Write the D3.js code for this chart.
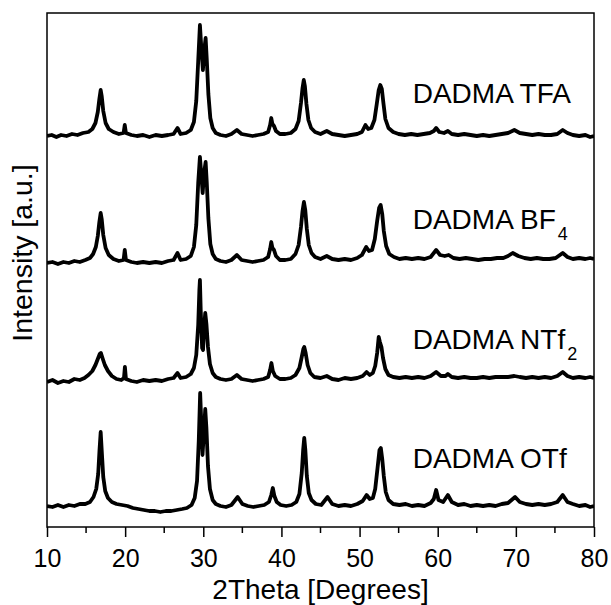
<!DOCTYPE html>
<html>
<head>
<meta charset="utf-8">
<script src="https://cdn.jsdelivr.net/npm/d3@7"></script>
<style>
  body { margin: 0; background: #fff; }
  svg text { font-family: "Liberation Sans", Arial, sans-serif; fill: #000; }
</style>
</head>
<body>
<div id="chart"></div>
<script>
// ---- data (2Theta in degrees, intensity in counts above each pattern's baseline)
const xMajorTicks = [10, 20, 30, 40, 50, 60, 70, 80];
const xMinorTicks = [15, 25, 35, 45, 55, 65, 75];

const sampleNames = ["DADMA TFA", "DADMA BF", "DADMA NTf", "DADMA OTf"];
const sampleSubs = ["", "4", "2", ""];
const sampleOffsets = [3910, 2660, 1470, 210];
const labelTheta = 56.8;
const labelLevels = [4240, 2980, 1780, 590];

const tfa = [[10,0],[10.6,10],[11.2,-10],[11.8,10],[12.5,0],[13.2,20],[13.9,10],[14.6,30],[15.3,40],[15.8,70],[16.2,130],[16.5,240],[16.7,370],[16.87,460],[17.0,400],[17.2,250],[17.5,130],[17.9,70],[18.5,40],[19.2,20],[19.8,30],[19.95,110],[20.1,30],[20.8,10],[21.5,0],[22.3,10],[23.1,-10],[23.9,10],[24.7,0],[25.5,10],[26.2,20],[26.7,80],[27.1,20],[27.8,30],[28.4,60],[28.8,140],[29.1,350],[29.35,750],[29.57,1110],[29.75,880],[29.95,660],[30.12,860],[30.3,980],[30.45,760],[30.65,420],[30.9,180],[31.2,80],[31.6,30],[32.2,10],[32.9,0],[33.6,20],[34.3,60],[34.9,20],[35.6,10],[36.3,0],[37.0,10],[37.7,20],[38.3,40],[38.55,110],[38.7,180],[38.85,120],[39.05,100],[39.3,50],[39.8,20],[40.5,20],[41.2,30],[41.8,70],[42.2,150],[42.5,330],[42.7,480],[42.86,560],[43.0,500],[43.2,320],[43.45,160],[43.8,80],[44.3,40],[45.0,20],[45.8,50],[46.5,20],[47.3,10],[48.1,0],[48.9,10],[49.7,20],[50.3,40],[50.75,110],[51.1,70],[51.5,80],[51.9,160],[52.2,320],[52.45,460],[52.65,510],[52.85,470],[53.05,330],[53.3,170],[53.7,80],[54.3,40],[55.0,20],[55.8,10],[56.6,20],[57.4,10],[58.2,20],[59.0,30],[59.5,50],[59.8,80],[60.2,40],[60.8,30],[61.3,50],[61.8,20],[62.6,10],[63.4,20],[64.2,10],[65.0,0],[65.8,10],[66.6,0],[67.4,10],[68.2,20],[69.0,30],[69.8,60],[70.5,30],[71.3,20],[72.1,10],[72.9,20],[73.7,10],[74.5,10],[75.3,20],[76.0,60],[76.6,30],[77.3,10],[78.1,0],[78.9,10],[79.5,-10],[80,0]];

const bf4 = [[10,-20],[10.7,-10],[11.4,-30],[12.1,-10],[12.8,-20],[13.5,0],[14.2,-10],[14.9,10],[15.5,30],[15.9,70],[16.25,140],[16.5,250],[16.7,390],[16.87,480],[17.0,420],[17.2,260],[17.5,130],[17.9,60],[18.5,20],[19.2,0],[19.8,10],[19.95,110],[20.1,10],[20.8,-10],[21.5,-20],[22.3,-10],[23.1,-20],[23.9,-10],[24.7,-20],[25.5,0],[26.2,10],[26.7,80],[27.1,10],[27.8,20],[28.4,50],[28.8,140],[29.1,360],[29.35,780],[29.57,1040],[29.75,860],[29.92,680],[30.1,880],[30.3,990],[30.45,780],[30.65,430],[30.9,170],[31.2,70],[31.6,20],[32.2,0],[32.9,-10],[33.6,10],[34.3,60],[34.9,10],[35.6,0],[36.3,-10],[37.0,0],[37.7,10],[38.3,40],[38.55,120],[38.7,190],[38.85,130],[39.05,110],[39.3,50],[39.8,10],[40.5,10],[41.2,20],[41.8,70],[42.2,160],[42.5,340],[42.7,500],[42.88,590],[43.05,510],[43.25,320],[43.5,160],[43.85,80],[44.3,40],[45.0,20],[45.8,50],[46.5,20],[47.3,10],[48.1,20],[48.9,10],[49.7,30],[50.3,60],[50.85,140],[51.2,100],[51.6,110],[51.95,220],[52.25,400],[52.5,530],[52.7,560],[52.9,470],[53.1,300],[53.4,150],[53.8,70],[54.4,40],[55.1,20],[55.9,30],[56.7,20],[57.5,30],[58.3,20],[59.1,40],[59.8,110],[60.3,60],[60.9,50],[61.4,60],[62.0,30],[62.8,20],[63.6,30],[64.4,20],[65.2,10],[66.0,20],[66.8,20],[67.6,30],[68.4,30],[69.0,50],[69.6,80],[70.3,50],[71.1,30],[71.9,20],[72.7,30],[73.5,20],[74.3,20],[75.1,30],[76.0,80],[76.6,40],[77.3,20],[78.1,30],[78.9,20],[79.5,30],[80,20]];

const ntf2 = [[10,-20],[10.7,0],[11.4,-30],[12.1,-10],[12.8,-20],[13.5,10],[14.2,0],[14.8,20],[15.3,50],[15.8,90],[16.2,150],[16.5,210],[16.75,260],[16.9,270],[17.1,220],[17.4,150],[17.8,90],[18.3,40],[18.9,10],[19.5,0],[19.85,20],[19.97,130],[20.1,10],[20.8,-10],[21.5,-20],[22.3,0],[23.1,-10],[23.9,0],[24.7,-10],[25.5,10],[26.2,20],[26.7,70],[27.1,20],[27.8,30],[28.4,60],[28.8,120],[29.1,250],[29.35,550],[29.5,900],[29.57,1000],[29.67,700],[29.85,320],[29.97,300],[30.1,520],[30.25,670],[30.4,560],[30.6,330],[30.85,160],[31.2,70],[31.6,30],[32.2,10],[32.9,0],[33.6,10],[34.3,50],[34.9,10],[35.6,0],[36.3,-10],[37.0,0],[37.7,10],[38.3,30],[38.55,100],[38.72,170],[38.9,90],[39.2,40],[39.8,10],[40.5,10],[41.2,20],[41.8,50],[42.3,120],[42.6,230],[42.8,310],[42.92,330],[43.1,270],[43.35,150],[43.7,70],[44.2,30],[45.0,20],[45.8,40],[46.5,10],[47.3,0],[48.1,20],[48.9,10],[49.7,20],[50.4,40],[50.9,80],[51.3,50],[51.7,70],[52.0,140],[52.25,270],[52.45,430],[52.6,380],[52.8,330],[53.0,220],[53.3,110],[53.7,50],[54.3,30],[55.1,20],[55.9,30],[56.7,20],[57.5,30],[58.3,20],[59.1,40],[59.8,80],[60.4,40],[61.0,40],[61.3,60],[61.8,30],[62.6,20],[63.4,30],[64.2,20],[65.0,20],[65.8,30],[66.6,20],[67.4,30],[68.2,30],[69.0,30],[69.8,40],[70.5,30],[71.3,20],[72.1,30],[72.9,20],[73.7,30],[74.5,20],[75.3,40],[76.0,80],[76.6,40],[77.3,20],[78.1,30],[78.9,20],[79.5,30],[80,20]];

const otf = [[10,0],[10.7,-10],[11.4,10],[12.1,-10],[12.8,10],[13.5,0],[14.2,20],[14.9,20],[15.5,40],[15.95,90],[16.3,170],[16.55,320],[16.72,560],[16.87,740],[17.0,560],[17.2,290],[17.45,150],[17.8,80],[18.3,40],[18.9,20],[19.6,10],[20.3,0],[21.0,-20],[21.7,-30],[22.4,-40],[23.1,-50],[23.8,-50],[24.5,-60],[25.2,-50],[25.9,-50],[26.6,-40],[27.3,-30],[27.9,-20],[28.5,10],[28.9,80],[29.2,250],[29.42,650],[29.6,1130],[29.75,820],[29.9,510],[30.05,700],[30.25,970],[30.4,780],[30.6,400],[30.85,170],[31.2,60],[31.6,20],[32.2,0],[32.9,-10],[33.6,10],[34.4,90],[35.0,20],[35.7,0],[36.4,-10],[37.1,0],[37.8,10],[38.4,40],[38.7,110],[38.9,180],[39.1,100],[39.4,40],[39.9,10],[40.6,0],[41.3,10],[41.9,40],[42.3,120],[42.6,330],[42.78,560],[42.92,680],[43.06,560],[43.25,300],[43.5,130],[43.85,60],[44.4,20],[45.1,10],[45.9,90],[46.5,20],[47.3,0],[48.1,10],[48.9,0],[49.7,20],[50.4,50],[50.9,110],[51.3,70],[51.7,80],[52.0,170],[52.3,380],[52.55,560],[52.72,580],[52.9,470],[53.1,300],[53.35,140],[53.7,60],[54.3,20],[55.1,10],[55.9,20],[56.7,0],[57.5,10],[58.3,0],[59.1,30],[59.5,70],[59.8,160],[60.1,60],[60.7,40],[61.3,110],[61.8,40],[62.6,10],[63.4,20],[64.2,0],[65.0,10],[65.8,0],[66.6,10],[67.4,0],[68.2,20],[69.0,30],[69.9,90],[70.5,40],[71.3,20],[72.1,10],[72.9,20],[73.7,10],[74.5,20],[75.3,40],[76.0,110],[76.6,40],[77.3,20],[78.1,0],[78.9,10],[79.5,-10],[80,0]];

const patterns = [tfa, bf4, ntf2, otf];

// ---- layout
const W = 611, H = 605;
const margin = { top: 13, right: 17, bottom: 78, left: 47 };
const width = W - margin.left - margin.right;
const height = H - margin.top - margin.bottom;

const svg = d3.select("#chart").append("svg")
  .attr("width", W)
  .attr("height", H);

const g = svg.append("g")
  .attr("transform", `translate(${margin.left},${margin.top})`);

const x = d3.scaleLinear().domain([10, 80]).range([0, width]);
const y = d3.scaleLinear().domain([0, 5140]).range([height, 0]);

// clip traces to the frame
svg.append("clipPath").attr("id", "plotClip")
  .append("rect").attr("width", width).attr("height", height);

const line = d3.line()
  .x(d => x(d[0]))
  .y(d => y(d[1]));

// noisy scans read as a thick band, so the stroke is heavy
g.append("g").attr("clip-path", "url(#plotClip)")
  .selectAll("path.trace")
  .data(patterns)
  .join("path")
  .attr("class", "trace")
  .attr("fill", "none")
  .attr("stroke", "#000")
  .attr("stroke-width", 3.8)
  .attr("stroke-linejoin", "round")
  .attr("d", (d, i) => line(d.map(p => [p[0], p[1] + sampleOffsets[i]])));

// frame
g.append("rect")
  .attr("width", width)
  .attr("height", height)
  .attr("fill", "none")
  .attr("stroke", "#000")
  .attr("stroke-width", 1.5);

// bottom axis
const xAxis = g.append("g")
  .attr("transform", `translate(0,${height})`)
  .call(d3.axisBottom(x).tickValues(xMajorTicks).tickSize(10).tickPadding(12).tickFormat(d3.format("d")));
xAxis.select(".domain").remove();
xAxis.selectAll(".tick line").attr("stroke-width", 1.5);
xAxis.selectAll(".tick text")
  .style("font-family", '"Liberation Sans", Arial, sans-serif')
  .style("font-size", "25px");

g.append("g").selectAll("line.minor")
  .data(xMinorTicks)
  .join("line")
  .attr("class", "minor")
  .attr("x1", d => x(d)).attr("x2", d => x(d))
  .attr("y1", height).attr("y2", height + 6)
  .attr("stroke", "#000")
  .attr("stroke-width", 1.5);

// axis titles
svg.append("text")
  .attr("x", margin.left + width / 2)
  .attr("y", 599)
  .attr("text-anchor", "middle")
  .style("font-size", "28px")
  .text("2Theta [Degrees]");

svg.append("text")
  .attr("transform", "translate(32,253) rotate(-90)")
  .attr("text-anchor", "middle")
  .style("font-size", "28.5px")
  .text("Intensity [a.u.]");

// sample labels
const labels = g.selectAll("text.sample")
  .data(sampleNames)
  .join("text")
  .attr("class", "sample")
  .attr("x", x(labelTheta))
  .attr("y", (d, i) => y(labelLevels[i]))
  .style("font-size", "28px")
  .text(d => d);

labels.filter((d, i) => sampleSubs[i] !== "")
  .append("tspan")
  .attr("dx", 2)
  .attr("dy", 11)
  .style("font-size", "18px")
  .text(d => sampleSubs[sampleNames.indexOf(d)]);
</script>
</body>
</html>
